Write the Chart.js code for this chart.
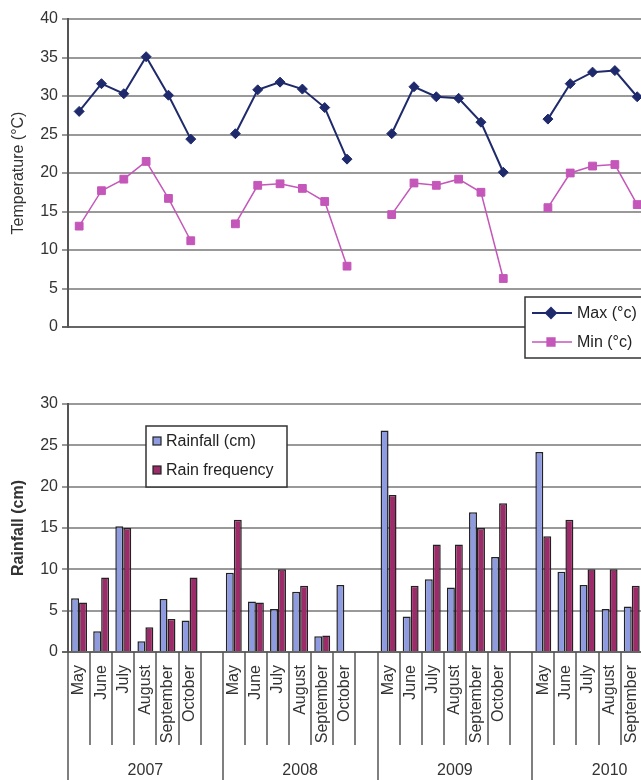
<!DOCTYPE html>
<html>
<head>
<meta charset="utf-8">
<script src="https://cdn.jsdelivr.net/npm/chart.js@4.4.1/dist/chart.umd.min.js"></script>
<style>
  html, body { margin: 0; padding: 0; background: #fff; overflow: hidden; }
  #wrap { position: relative; width: 641px; height: 780px; overflow: hidden; }
  canvas { position: absolute; left: 0; }
  #tempChart { top: 0; }
  #rainChart { top: 380px; }
</style>
</head>
<body>
<div id="wrap">
  <canvas id="tempChart" width="700" height="370"></canvas>
  <canvas id="rainChart" width="694" height="400"></canvas>
</div>
<script>
// data; blank slot after each October, Oct 2010 is cut off
const years = ['2007', '2008', '2009', '2010'];
const months = ['May', 'June', 'July', 'August', 'September', 'October'];
const categories = years.flatMap(y => [...months, '']);

const maxTemp = [28.0, 31.6, 30.3, 35.1, 30.1, 24.4, null,
                 25.1, 30.8, 31.8, 30.9, 28.5, 21.8, null,
                 25.1, 31.2, 29.9, 29.7, 26.6, 20.1, null,
                 27.0, 31.6, 33.1, 33.3, 29.9, null, null];
const minTemp = [13.1, 17.7, 19.2, 21.5, 16.7, 11.2, null,
                 13.4, 18.4, 18.6, 18.0, 16.3, 7.9, null,
                 14.6, 18.7, 18.4, 19.2, 17.5, 6.3, null,
                 15.5, 20.0, 20.9, 21.1, 15.9, null, null];
const rainfall = [6.5, 2.5, 15.2, 1.3, 6.4, 3.8, null,
                  9.6, 6.1, 5.2, 7.3, 1.9, 8.1, null,
                  26.8, 4.3, 8.8, 7.8, 16.9, 11.5, null,
                  24.2, 9.7, 8.1, 5.2, 5.5, null, null];
const rainFreq = [6, 9, 15, 3, 4, 9, null,
                  16, 6, 10, 8, 2, null, null,
                  19, 8, 13, 13, 15, 18, null,
                  14, 16, 10, 10, 8, null, null];

const tempTicks = [0, 5, 10, 15, 20, 25, 30, 35, 40];
const rainTicks = [0, 5, 10, 15, 20, 25, 30];

Chart.defaults.font.family = "'Liberation Sans', Arial, sans-serif";
Chart.defaults.color = '#333';
Chart.defaults.animation = false;

const FONT = "'Liberation Sans', Arial, sans-serif";
const gridColor = ctx => (ctx.tick && ctx.tick.value === 0) ? '#666' : '#999';

function yScale(ticks, title, bold) {
  return {
    min: ticks[0], max: ticks[ticks.length - 1],
    afterBuildTicks: s => { s.ticks = ticks.map(v => ({ value: v })); },
    afterFit: s => { s.width = 68; },
    ticks: { padding: 4, font: { size: 16 }, color: '#333' },
    grid: { color: gridColor, lineWidth: 2, tickLength: 6 },
    border: { color: '#555', width: 2 },
    title: { display: true, text: title, color: '#333',
             font: { size: 16, weight: bold ? 'bold' : 'normal' }, padding: { top: 9, bottom: 4 } }
  };
}

// legend box for the line chart, sitting over the lower right corner
const tempLegend = {
  id: 'tempLegend',
  afterDraw(chart) {
    const ctx = chart.ctx;
    ctx.save();
    ctx.fillStyle = '#fff';
    ctx.strokeStyle = '#333';
    ctx.lineWidth = 1.5;
    ctx.fillRect(525, 297, 130, 61);
    ctx.strokeRect(525, 297, 130, 61);
    chart.data.datasets.forEach((ds, i) => {
      const y = 313 + i * 29;
      ctx.strokeStyle = ds.borderColor;
      ctx.lineWidth = ds.borderWidth;
      ctx.beginPath(); ctx.moveTo(532, y); ctx.lineTo(572, y); ctx.stroke();
      ctx.fillStyle = ds.backgroundColor;
      Chart.helpers.drawPoint(ctx, { pointStyle: ds.pointStyle, radius: ds.pointRadius, borderWidth: 1 }, 551, y);
      ctx.fill();
      ctx.fillStyle = '#222';
      ctx.font = '16px ' + FONT;
      ctx.textBaseline = 'middle';
      ctx.fillText(ds.label, 577, y + 1);
    });
    ctx.restore();
  }
};

const rainLegend = {
  id: 'rainLegend',
  afterDraw(chart) {
    const ctx = chart.ctx;
    ctx.save();
    ctx.fillStyle = '#fff';
    ctx.strokeStyle = '#333';
    ctx.lineWidth = 1.5;
    ctx.fillRect(146, 46, 141, 61);
    ctx.strokeRect(146, 46, 141, 61);
    chart.data.datasets.forEach((ds, i) => {
      const y = 61 + i * 29;
      ctx.fillStyle = ds.backgroundColor;
      ctx.fillRect(153, y - 4, 8, 8);
      ctx.strokeStyle = '#222';
      ctx.lineWidth = 1.2;
      ctx.strokeRect(153, y - 4, 8, 8);
      ctx.fillStyle = '#222';
      ctx.font = '16px ' + FONT;
      ctx.textBaseline = 'middle';
      ctx.fillText(ds.label, 166, y + 1);
    });
    ctx.restore();
  }
};

// two level category axis: months rotated, years below, separator lines
const yearAxis = {
  id: 'yearAxis',
  afterDraw(chart) {
    const { ctx, chartArea } = chart;
    const x = chart.scales.x;
    const base = chartArea.bottom;
    ctx.save();
    ctx.strokeStyle = '#555';
    ctx.lineWidth = 1.5;
    for (let i = 0; i <= categories.length; i++) {
      const px = Math.round(x.getPixelForValue(i - 0.5));
      const end = (i % 7 === 0) ? chart.height : base + 93;
      ctx.beginPath(); ctx.moveTo(px, base); ctx.lineTo(px, end); ctx.stroke();
    }
    ctx.fillStyle = '#333';
    ctx.font = '16px ' + FONT;
    categories.forEach((m, i) => {
      if (!m) return;
      ctx.save();
      ctx.translate(x.getPixelForValue(i), base + 13);
      ctx.rotate(-Math.PI / 2);
      ctx.textAlign = 'right';
      ctx.textBaseline = 'middle';
      ctx.fillText(m, 0, 0);
      ctx.restore();
    });
    ctx.textAlign = 'center';
    ctx.textBaseline = 'middle';
    years.forEach((yr, k) => {
      const cx = (x.getPixelForValue(k * 7 - 0.5) + x.getPixelForValue(k * 7 + 6.5)) / 2;
      ctx.fillText(yr, cx, 391);
    });
    ctx.restore();
  }
};

new Chart(document.getElementById('tempChart'), {
  type: 'line',
  data: {
    labels: categories,
    datasets: [
      { label: 'Max (\u00b0c)', data: maxTemp, borderColor: '#1f2a6c', backgroundColor: '#1f2a6c',
        borderWidth: 2, pointStyle: 'rectRot', pointRadius: 5, pointBorderWidth: 1 },
      { label: 'Min (\u00b0c)', data: minTemp, borderColor: '#c457b9', backgroundColor: '#c457b9',
        borderWidth: 1.5, pointStyle: 'rect', pointRadius: 5.5, pointBorderWidth: 1 }
    ]
  },
  options: {
    responsive: false,
    layout: { padding: { left: 0, top: 19, right: 7, bottom: 43 } },
    plugins: { legend: { display: false }, tooltip: { enabled: false } },
    scales: {
      x: { display: false, offset: true },
      y: yScale(tempTicks, 'Temperature (\u00b0C)', false)
    }
  },
  plugins: [tempLegend]
});

new Chart(document.getElementById('rainChart'), {
  type: 'bar',
  data: {
    labels: categories,
    datasets: [
      { label: 'Rainfall (cm)', data: rainfall, backgroundColor: '#8e9be0' },
      { label: 'Rain frequency', data: rainFreq, backgroundColor: '#9b2c69' }
    ]
  },
  options: {
    responsive: false,
    layout: { padding: { left: 0, top: 24, right: 7, bottom: 128 } },
    datasets: {
      bar: { borderColor: '#222', borderWidth: 1.5, borderSkipped: 'bottom',
             categoryPercentage: 0.72, barPercentage: 1.0 }
    },
    plugins: { legend: { display: false }, tooltip: { enabled: false } },
    scales: {
      x: { display: false, offset: true },
      y: yScale(rainTicks, 'Rainfall (cm)', true)
    }
  },
  plugins: [rainLegend, yearAxis]
});
</script>
</body>
</html>
